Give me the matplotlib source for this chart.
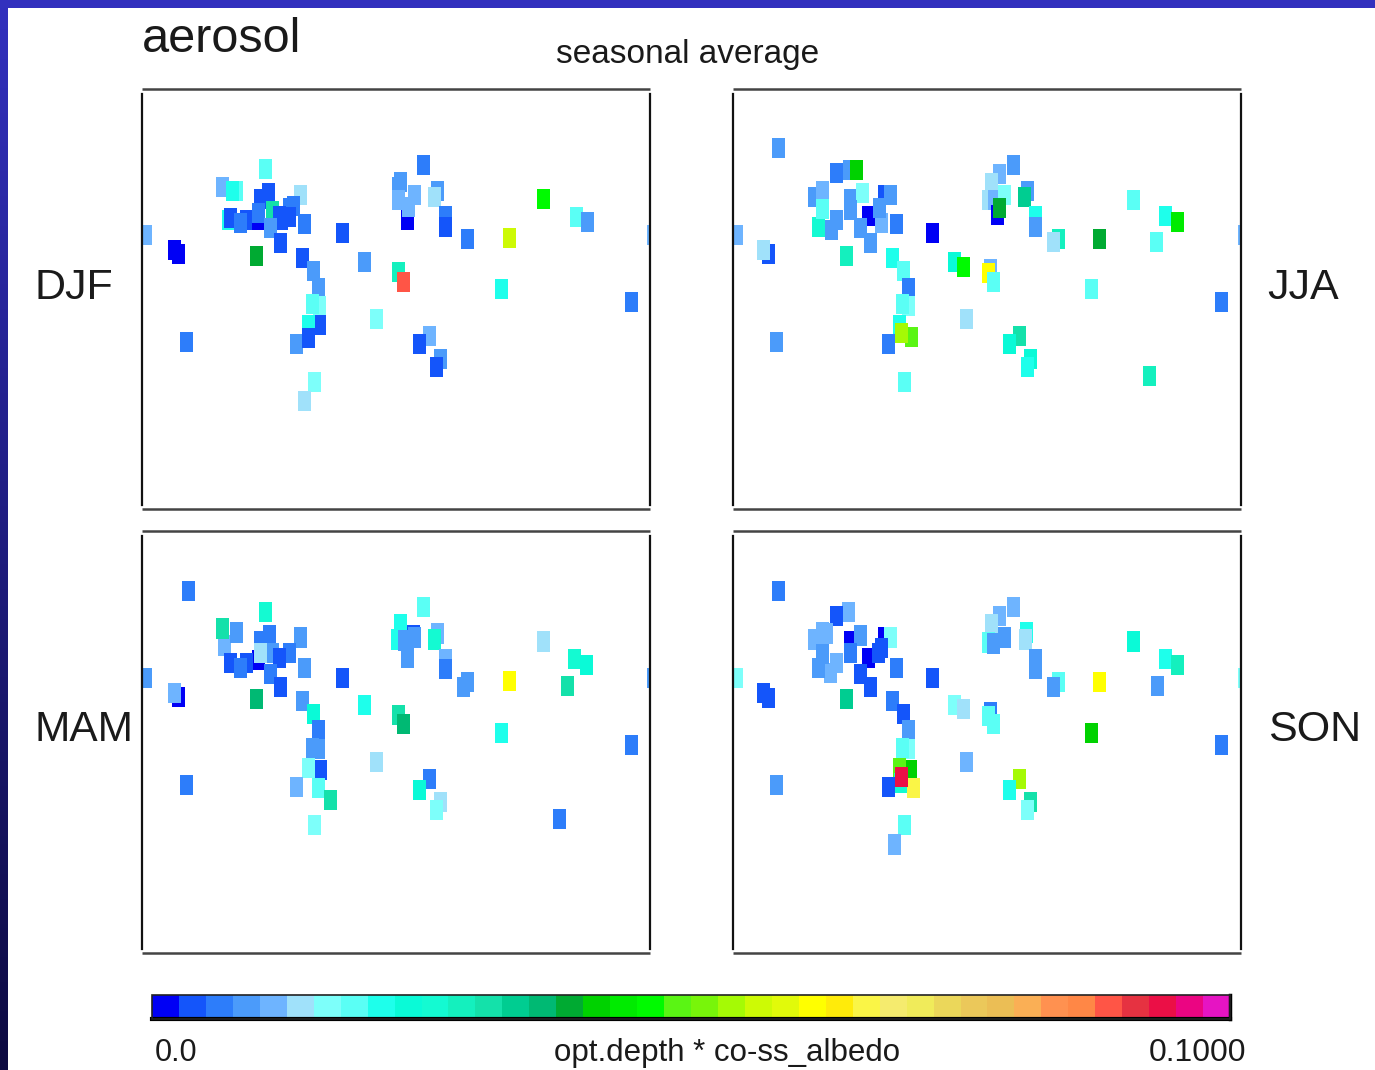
"""Aerosol seasonal average maps: opt.depth * co-ss_albedo at the station grid cells."""
import numpy as np
import matplotlib
matplotlib.use("Agg")
import matplotlib.pyplot as plt
from matplotlib.cm import ScalarMappable
from matplotlib.colors import ListedColormap, Normalize
from matplotlib.patches import Rectangle

FIG_W, FIG_H = 1375, 1070

# colour scale, one entry per 0.0025 step
scale_colors = [
    (0, 0, 245), (20, 85, 250), (45, 125, 250), (75, 155, 250), (110, 180, 255),
    (160, 225, 250), (125, 255, 250), (90, 255, 245), (30, 255, 235), (10, 250, 215),
    (20, 250, 210), (20, 240, 190), (20, 225, 170), (0, 205, 145), (0, 185, 115),
    (0, 170, 50), (0, 210, 0), (0, 235, 0), (0, 250, 0), (90, 245, 20),
    (120, 245, 10), (165, 250, 5), (205, 250, 5), (225, 250, 10), (255, 255, 0),
    (255, 235, 10), (250, 245, 70), (245, 235, 110), (240, 235, 90), (235, 215, 90),
    (235, 200, 90), (235, 190, 85), (250, 175, 85), (255, 145, 80), (255, 135, 70),
    (255, 85, 70), (230, 50, 65), (235, 15, 70), (235, 5, 130), (230, 20, 195),
]

# cell corner in map units (508 x 420 per panel), and colour bin of the cell
djf_x = [-3, 26, 30, 38, 74, 88, 84, 117, 80, 82, 98, 92, 120, 112, 110, 110, 124, 152, 145, 141, 141, 131, 133, 122, 132, 156, 108, 154, 165, 170, 171, 164, 171, 160, 148, 160, 166, 156, 194, 216, 250, 255, 228, 281, 271, 292, 288, 275, 252, 250, 266, 250, 259, 260, 289, 286, 297, 297, 319, 361, 353, 395, 428, 439, 483]
djf_y = [136, 151, 155, 243, 88, 92, 92, 70, 121, 119, 121, 124, 94, 100, 121, 114, 112, 96, 107, 109, 118, 117, 121, 129, 144, 125, 157, 159, 172, 189, 207, 205, 226, 226, 245, 239, 283, 302, 134, 163, 173, 183, 220, 237, 245, 260, 268, 66, 83, 88, 96, 101, 121, 108, 92, 98, 117, 128, 140, 139, 190, 100, 118, 123, 203]
djf_bin = [4, 0, 0, 2, 4, 7, 8, 7, 8, 1, 1, 2, 1, 1, 0, 2, 12, 5, 2, 2, 1, 1, 1, 3, 1, 2, 15, 1, 3, 3, 6, 7, 1, 8, 3, 1, 6, 5, 1, 3, 11, 35, 6, 4, 1, 3, 1, 2, 3, 3, 4, 4, 0, 4, 3, 5, 2, 1, 2, 22, 8, 18, 7, 3, 2]

jja_x = [-3, 29, 24, 39, 37, 75, 83, 79, 92, 97, 83, 97, 110, 117, 111, 123, 111, 129, 145, 151, 142, 140, 121, 131, 157, 107, 153, 164, 169, 169, 163, 160, 172, 162, 149, 165, 193, 215, 224, 251, 249, 254, 227, 280, 270, 291, 288, 274, 260, 252, 249, 255, 265, 258, 260, 288, 285, 296, 296, 319, 314, 360, 352, 394, 426, 438, 417, 482, 410]
jja_y = [136, 155, 151, 49, 243, 98, 92, 128, 131, 121, 110, 74, 71, 71, 100, 94, 111, 117, 96, 96, 124, 109, 129, 144, 125, 157, 159, 172, 189, 207, 205, 226, 238, 234, 245, 283, 134, 163, 168, 170, 174, 183, 220, 237, 245, 260, 268, 66, 75, 84, 101, 101, 96, 116, 109, 92, 98, 117, 128, 140, 143, 140, 190, 101, 117, 123, 143, 203, 277]
jja_bin = [4, 1, 5, 3, 3, 3, 4, 10, 3, 3, 7, 2, 3, 16, 3, 6, 3, 0, 1, 3, 4, 3, 3, 3, 2, 11, 8, 7, 2, 6, 7, 8, 19, 21, 2, 7, 0, 9, 18, 4, 24, 7, 5, 12, 9, 9, 8, 3, 4, 5, 5, 4, 6, 0, 15, 3, 13, 8, 3, 11, 5, 15, 7, 7, 8, 17, 7, 2, 11]

mam_x = [-3, 40, 30, 26, 38, 76, 74, 88, 117, 121, 112, 124, 110, 112, 152, 141, 131, 82, 98, 92, 122, 132, 156, 108, 154, 165, 170, 164, 170, 172, 160, 170, 148, 182, 166, 194, 216, 250, 255, 228, 281, 271, 292, 288, 275, 252, 249, 265, 266, 256, 259, 289, 286, 297, 297, 319, 315, 361, 353, 395, 426, 438, 419, 483, 411]
mam_y = [136, 50, 155, 151, 243, 104, 87, 91, 71, 94, 100, 111, 118, 111, 96, 111, 116, 121, 121, 126, 132, 145, 126, 157, 159, 172, 188, 206, 207, 228, 226, 246, 245, 258, 283, 136, 163, 173, 182, 220, 237, 248, 260, 268, 66, 83, 98, 94, 96, 99, 116, 92, 98, 117, 127, 140, 145, 139, 191, 100, 117, 123, 144, 203, 277]
mam_bin = [3, 2, 0, 4, 2, 4, 12, 3, 10, 2, 2, 3, 0, 5, 3, 2, 1, 1, 1, 2, 2, 1, 3, 14, 3, 9, 2, 3, 3, 1, 6, 7, 4, 12, 6, 1, 8, 12, 14, 5, 2, 9, 5, 6, 7, 8, 8, 1, 3, 3, 3, 4, 10, 4, 2, 3, 3, 24, 8, 5, 10, 9, 12, 2, 2]

son_x = [-3, 39, 24, 29, 37, 109, 97, 75, 87, 83, 91, 79, 83, 97, 111, 121, 111, 129, 145, 151, 142, 139, 121, 131, 157, 107, 153, 164, 169, 169, 163, 171, 160, 174, 161, 162, 149, 165, 155, 193, 215, 224, 251, 249, 254, 227, 280, 270, 291, 288, 274, 260, 252, 249, 265, 254, 287, 286, 296, 296, 319, 314, 360, 352, 394, 426, 438, 418, 482]
son_y = [136, 50, 151, 156, 243, 71, 75, 98, 92, 91, 131, 126, 112, 121, 100, 94, 111, 116, 96, 96, 106, 111, 132, 145, 126, 157, 159, 172, 188, 207, 206, 228, 226, 246, 241, 235, 245, 283, 302, 136, 163, 167, 170, 174, 182, 220, 237, 248, 260, 268, 66, 75, 83, 101, 96, 102, 91, 98, 117, 127, 140, 145, 140, 191, 100, 117, 123, 144, 203]
son_bin = [6, 2, 1, 1, 3, 4, 1, 4, 4, 4, 4, 3, 3, 4, 0, 3, 2, 0, 0, 6, 1, 1, 1, 1, 2, 13, 2, 1, 3, 6, 7, 16, 19, 26, 10, 37, 1, 7, 4, 1, 6, 5, 2, 7, 7, 4, 21, 8, 12, 6, 4, 4, 5, 7, 3, 3, 8, 5, 3, 3, 7, 3, 24, 16, 9, 8, 11, 3, 2]

BIN_WIDTH = 0.0025
VMAX = 0.1
MAP_W, MAP_H = 508, 420
CELL_W, CELL_H = 13, 20


def px_axes(fig, left, top, right, bottom):
    """Axes placed by pixel edges measured from the top left corner."""
    return fig.add_axes([
        left / FIG_W,
        1 - bottom / FIG_H,
        (right - left) / FIG_W,
        (bottom - top) / FIG_H,
    ])


def px_text(fig, x, y, s, size, ha="left"):
    fig.text(x / FIG_W, 1 - y / FIG_H, s, fontsize=size, ha=ha, va="center",
             color="#1a1a1a")


def plot_season(ax, xs, ys, bins, cmap, norm):
    values = (np.array(bins) + 0.5) * BIN_WIDTH
    colors = cmap(norm(values))
    ax.bar(xs, CELL_H, width=CELL_W, bottom=ys, align="edge", color=colors, linewidth=0)
    # the cell on the date line wraps round to the other edge
    for x, y, c in zip(xs, ys, colors):
        if x < 0:
            ax.bar(x + MAP_W, CELL_H, width=CELL_W, bottom=y, align="edge", color=[c], linewidth=0)
    ax.set_xlim(0, MAP_W)
    ax.set_ylim(MAP_H, 0)
    ax.set_xticks([])
    ax.set_yticks([])
    for side in ["top", "bottom"]:
        ax.spines[side].set_linewidth(1.8)
        ax.spines[side].set_color("#444444")
        ax.spines[side].set_capstyle("butt")
    # side lines stop just short of the corners
    for side in ["left", "right"]:
        ax.spines[side].set_linewidth(1.6)
        ax.spines[side].set_color("#111111")
        ax.spines[side].set_bounds(5, MAP_H - 4)


def main():
    plt.rcParams["font.family"] = ["Liberation Sans", "DejaVu Sans"]
    fig = plt.figure(figsize=(FIG_W / 100, FIG_H / 100), dpi=100, facecolor="white")

    # slide border: solid top, fading left edge
    strip = px_axes(fig, 0, 0, 8, FIG_H)
    strip.imshow(np.linspace(0, 1, 256).reshape(-1, 1), aspect="auto",
                 cmap=ListedColormap(np.linspace((50, 48, 190), (13, 10, 65), 256) / 255))
    strip.axis("off")
    fig.patches.append(Rectangle((0, 1 - 8 / FIG_H), 1, 8 / FIG_H, transform=fig.transFigure,
                                 color=(50 / 255, 48 / 255, 190 / 255), linewidth=0))

    cmap = ListedColormap(np.array(scale_colors) / 255)
    norm = Normalize(0, VMAX)

    plot_season(px_axes(fig, 142, 89, 650, 509), djf_x, djf_y, djf_bin, cmap, norm)
    plot_season(px_axes(fig, 733, 89, 1241, 509), jja_x, jja_y, jja_bin, cmap, norm)
    plot_season(px_axes(fig, 142, 531, 650, 953), mam_x, mam_y, mam_bin, cmap, norm)
    plot_season(px_axes(fig, 733, 531, 1241, 953), son_x, son_y, son_bin, cmap, norm)

    cax = px_axes(fig, 152, 995, 1230, 1019)
    cb = fig.colorbar(ScalarMappable(norm=norm, cmap=cmap), cax=cax, orientation="horizontal")
    cb.set_ticks([])
    cb.outline.set_linewidth(1.2)
    cb.outline.set_edgecolor("#222222")
    cax.plot([0, 1], [0, 0], transform=cax.transAxes, color="black", lw=3, clip_on=False)
    cax.plot([1, 1], [0, 1], transform=cax.transAxes, color="black", lw=2.5, clip_on=False)

    px_text(fig, 142, 40, "aerosol", 35)
    px_text(fig, 688, 54, "seasonal average", 24, ha="center")
    px_text(fig, 35, 288, "DJF", 31)
    px_text(fig, 1267, 288, "JJA", 31)
    px_text(fig, 35, 730, "MAM", 30.5)
    px_text(fig, 1268, 730, "SON", 31)
    px_text(fig, 155, 1053, "0.0", 22)
    px_text(fig, 727, 1053, "opt.depth * co-ss_albedo", 22.5, ha="center")
    px_text(fig, 1149, 1053, "0.1000", 23)

    fig.savefig("out.png", dpi=100)


if __name__ == "__main__":
    main()
